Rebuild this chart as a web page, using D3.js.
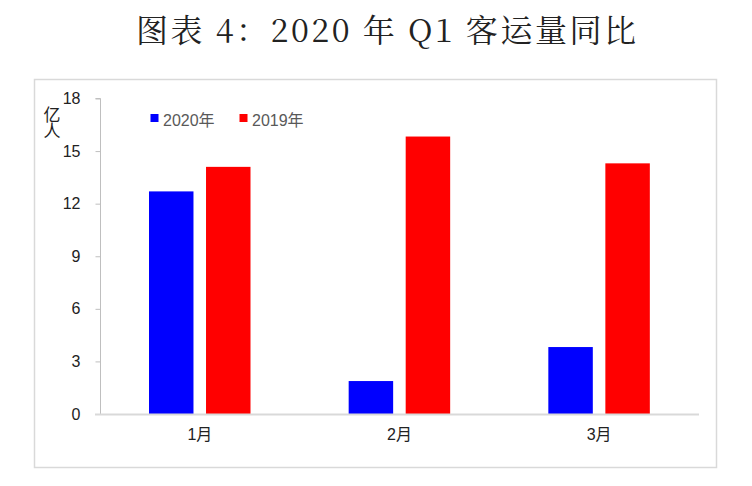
<!DOCTYPE html>
<html><head><meta charset="utf-8">
<script src="https://cdn.jsdelivr.net/npm/d3@7"></script>
<style>body{margin:0;background:#fff}</style>
</head><body>
<svg id="c" width="752" height="486"></svg>
<script>
const categories = ["1月", "2月", "3月"];
const seriesNames = ["2020年", "2019年"];
const values2020 = [12.7, 1.88, 3.82];
const values2019 = [14.1, 15.83, 14.3];
const yTicks = [0, 3, 6, 9, 12, 15, 18];
const colors = ["#0000ff", "#ff0000"];

const svg = d3.select("#c");
const font = "Arial, 'Liberation Sans', 'Noto Sans CJK SC', sans-serif";

svg.append("text").attr("x", 386).attr("y", 42).attr("text-anchor", "middle")
  .attr("font-family", "'Noto Serif CJK SC','Liberation Serif','Noto Sans CJK SC',serif")
  .attr("font-size", 32).attr("fill", "#222")
  .attr("textLength", 500).attr("lengthAdjust", "spacing")
  .text("图表 4：2020 年 Q1 客运量同比");

svg.append("rect").attr("x", 34.5).attr("y", 79.5).attr("width", 682).attr("height", 388)
  .attr("fill", "none").attr("stroke", "#d9d9d9").attr("stroke-width", 1.5);

const x = d3.scaleBand().domain(categories).range([100, 699]);
const y = d3.scaleLinear().domain([0, 18]).range([414, 98.5]);

const data = categories.map((c, i) => ({c, v: [values2020[i], values2019[i]]}));
const inner = d3.scaleBand().domain([0, 1]).range([49, 150.5]).paddingInner(0.22);

// y axis
const yAxis = d3.axisLeft(y).tickValues(yTicks).tickSize(5).tickPadding(15);
const yg = svg.append("g").attr("transform", "translate(100.5,0)").call(yAxis);
yg.select(".domain").attr("stroke", "#bfbfbf").attr("d", "M-5,98.5H0V414");
yg.selectAll(".tick line").attr("stroke", "#bfbfbf");
yg.selectAll(".tick text").attr("font-family", font).attr("font-size", 16).attr("fill", "#222");

// bars
const g = svg.append("g");
data.forEach(d => {
  d.v.forEach((v, k) => {
    g.append("rect").attr("x", x(d.c) + inner(k)).attr("y", y(v))
      .attr("width", inner.bandwidth()).attr("height", y(0) - y(v))
      .attr("fill", colors[k]);
  });
});

// x axis
const xAxis = d3.axisBottom(x).tickSize(0).tickPadding(14);
const xg = svg.append("g").attr("transform", "translate(0,414.5)").call(xAxis);
xg.select(".domain").attr("stroke", "#d9d9d9").attr("stroke-width", 2).attr("d", "M95,0H699");
xg.selectAll(".tick text").attr("font-family", font).attr("font-size", 16).attr("fill", "#222");

// unit label (vertical)
svg.append("text").attr("x", 50).attr("y", 106)
  .style("writing-mode", "vertical-rl").attr("letter-spacing", -1)
  .attr("font-family", font).attr("font-size", 17).attr("fill", "#222").text("亿人");

// legend
const legX = [150.5, 239.5];
seriesNames.forEach((n, k) => {
  svg.append("rect").attr("x", legX[k]).attr("y", 114).attr("width", 8).attr("height", 8).attr("fill", colors[k]);
  svg.append("text").attr("x", legX[k] + 12.5).attr("y", 125.5).attr("font-family", font)
    .attr("font-size", 16).attr("fill", "#595959").text(n);
});
</script>
</body></html>
